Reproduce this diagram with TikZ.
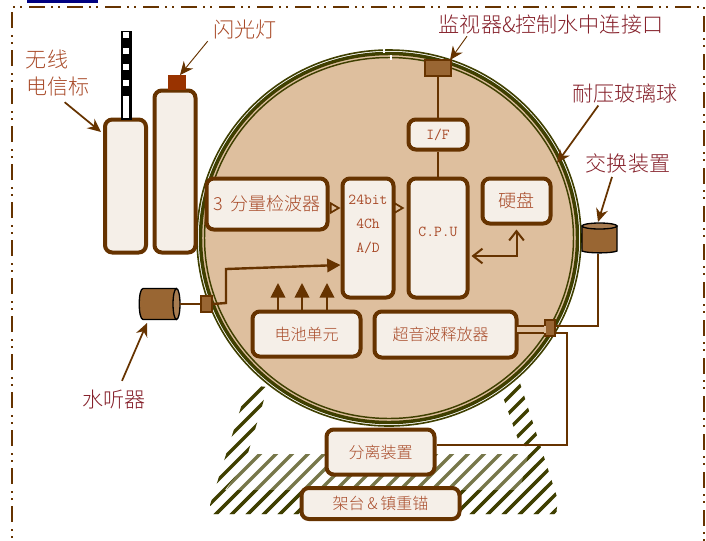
\documentclass[tikz,border=0pt]{standalone}
\usepackage{fontspec}
\setmainfont{Liberation Serif}
\newfontfamily\cjk{Noto Sans CJK SC Light}
\usetikzlibrary{arrows.meta,shapes.geometric}
\definecolor{brn}{HTML}{663300}
\definecolor{boxfill}{HTML}{F5EFE8}
\definecolor{tan1}{HTML}{DEBF9E}
\definecolor{ptc}{HTML}{996633}
\definecolor{capc}{HTML}{993300}
\definecolor{txto}{HTML}{A84A28}
\definecolor{txtr}{HTML}{85202A}
\definecolor{olive}{HTML}{3F3F00}
\definecolor{olivel}{HTML}{77774A}
\tikzset{
  bx/.style n args={2}{draw=brn,fill=boxfill,line width=3pt,rounded corners=5.5pt,inner sep=0pt,
    minimum width=#1*0.75pt,minimum height=#2*0.75pt,text=txto,font=\cjk\fontsize{12}{14}\selectfont,align=center},
  pt/.style n args={2}{draw=brn,fill=ptc,line width=0.9pt,inner sep=0pt,minimum width=#1*0.75pt,minimum height=#2*0.75pt},
  lbl/.style={inner sep=0pt,font=\cjk\fontsize{15.8}{17}\selectfont},
  ann/.style={draw=brn,line width=1.3pt,-{Stealth[length=10pt,width=9pt]}},
  wire/.style={draw=brn,line width=1.8pt},
  thin wire/.style={draw=brn,line width=1.3pt},
  filled up/.style={draw=brn,line width=1.3pt,-{Triangle[length=11pt,width=11pt]}},
  opentri/.style={draw=brn,line width=1.3pt,-{Triangle[open,length=8pt,width=9pt,fill=tan1]}},
  barb/.style={draw=brn,line width=1.5pt,{Straight Barb[length=7pt,width=11pt]}-{Straight Barb[length=7pt,width=11pt]}},
  hatch/.style={line width=2.5pt,line cap=butt},
  mono text/.style={font=\ttfamily\fontsize{11.4}{18}\selectfont},
  anchorbox/.style n args={2}{inner sep=0pt,minimum width=#1*0.75pt,minimum height=#2*0.75pt}
}
\begin{document}
\begin{tikzpicture}[x=0.75pt,y=-0.75pt]
\useasboundingbox (0,0) rectangle (706,540);
\clip (0,0) rectangle (706,540);
% frame
\draw[brn,line width=1.5pt,dash pattern=on 12pt off 4.5pt on 1.5pt off 4pt on 1.5pt off 5pt] (12,560)--(12,7)--(704,7)--(704,560);
\fill[blue!50!black] (27,0) rectangle (98,3);
% hatching
\begin{scope}
\clip (248,454) -- (530,454) -- (558,514) -- (212,514) -- cycle;
\foreach \c in {650,666,...,1100} \draw[hatch,olivel] (\c-370,370) -- (\c-530,530);
\end{scope}
\begin{scope}
\clip (248,385) -- (267,387) -- (263,403) -- (248,453) -- (240,470) -- (225,490) -- (520,490)
  -- (530,447) -- (520,445) -- (503,397) -- (520,383) -- (558,500) -- (556,514) -- (213,514) -- (210,505) -- cycle;
\foreach \c in {650,666,...,1100} \draw[hatch,olive] (\c-370,370) -- (\c-530,530);
\end{scope}
% sphere
\draw[olive,line width=1.2pt,fill=white] (389,238) ellipse [x radius=192,y radius=188];
\draw[olive,line width=2.6pt,fill=tan1] (389,238) ellipse [x radius=188.5,y radius=184.5];
\draw[olive,line width=1.1pt] (389,238) ellipse [x radius=184.5,y radius=180.5];
\draw[white,line width=1pt] (384,49) -- (384,53);
\draw[white,line width=1pt] (391,55) -- (391,60);
% floats
\node[bx={41}{133}] (radio) at (125.5,186) {};
\node[bx={41}{162}] (flash) at (175,171.5) {};
\node[draw=black,fill=black,line width=0pt,inner sep=0pt,minimum width=10*0.75pt,minimum height=88*0.75pt] (antenna) at (126,75) {};
\foreach \y/\h in {35/6,51/6,67/6,83/6,107/22}
  \fill[white] (122.7,\y-\h/2) rectangle (129.3,\y+\h/2);
\node[fill=capc,inner sep=0pt,minimum width=18*0.75pt,minimum height=15*0.75pt] (cap) at (177,82.5) {};
% boxes
\node[bx={121}{51}] (det) at (267,204) {\fontsize{13.5}{14}\selectfont\cjk 3\hspace{2.5pt} 分量检波器};
\node[bx={51}{119}, mono text] (ad) at (368,238) {24bit\\4Ch\\A/D\\[4pt]\mbox{}};
\node[bx={59}{119}, mono text] (cpu) at (438,238) {C.P.U\\[-9pt]\mbox{}};
\node[bx={59}{30}, mono text] (if) at (438,134.5) {I/F};
\node[bx={68}{45}] (hd) at (516.5,201) {\fontsize{13.5}{14}\selectfont\cjk 硬盘};
\node[bx={108}{45}] (bat) at (306.5,334) {电池单元};
\node[bx={142}{46}] (us) at (445.5,334.5) {超音波释放器\hspace{7.5pt}};
\node[bx={108}{45}] (sep) at (380.5,452) {分离装置};
\node[bx={158}{31}] (base) at (380.5,503.5) {架台\,\&\,镇重锚};
% ports
\node[pt={26}{16}] (top) at (438,68) {};
\node[pt={11}{16}] (hport) at (206.5,304) {};
\node[pt={10}{16}] (uport) at (550,328) {};
% cylinders
\node[anchorbox={41}{31}] (hyd) at (159.5,304) {};
\draw[black,line width=1pt,fill=ptc] (176.5,288.5) -- (143,288.5) .. controls (138,288.5) and (138,319.5) .. (143,319.5) -- (176.5,319.5);
\draw[black,line width=1pt,fill=ptc!85!white] (176.5,304) ellipse [x radius=3.5,y radius=15.5];
\node[anchorbox={36}{31}] (xch) at (599.5,238) {};
\draw[black,line width=1pt,fill=ptc] (582,226) -- (582,251) .. controls (588,253.5) and (611,253.5) .. (617,251) -- (617,226) -- cycle;
\draw[black,line width=1pt,fill=ptc!85!white] (599.5,226) ellipse [x radius=17.5,y radius=3];
% wires
\draw[wire] (top) -- (if);
\draw[wire] (if) -- (cpu);
\draw[opentri] ([yshift=-3pt]det.east) -- ([yshift=22.5pt]ad.west);
\draw[opentri,shorten >=1.5pt] ([yshift=22.5pt]ad.east) -- ([yshift=22.5pt]cpu.west);
\draw[barb] ([xshift=1.5pt,yshift=-13.5pt]cpu.east) -| ([yshift=-3pt]hd.south);
\draw[wire] (hyd.east) -- (hport.west);
\draw[wire,-{Triangle[length=10pt,width=10pt]}] (hport.east) -- (226,303) -- (226,269) -- ([yshift=-20.25pt]ad.west);
\draw[filled up] (bat.north -| 278,0) -- (278,283);
\draw[filled up] (bat.north -| 302,0) -- (302,283);
\draw[filled up] (bat.north -| 327,0) -- (327,283);
\fill[tan1] (517,326) rectangle (546,333);
\draw[thin wire] (517,326) -- (uport.west |- 0,326);
\draw[thin wire] (517,333) -- (uport.west |- 0,333);
\draw[thin wire] (uport.east |- 0,326) -- (598,326) -- (xch.south -| 598,0);
\draw[thin wire] (uport.east |- 0,333) -- (567,333) -- (567,445) -- (sep.east |- 0,445);
% labels
\node[lbl,text=txto] (l1) at (47,59) {无线};
\node[lbl,text=txto] (l2) at (58,87) {电信标};
\node[lbl,text=txto] (l3) at (245,30) {闪光灯};
\node[lbl,text=txtr] (l4) at (551,25) {监视器\&控制水中连接口};
\node[lbl,text=txtr] (l5) at (625,93) {耐压玻璃球};
\node[lbl,text=txtr] (l6) at (628,163) {交换装置};
\node[lbl,text=txtr] (l7) at (114,400) {水听器};
\coordinate (radiotip) at (101,132);
\coordinate (flashtip) at (180,75);
\coordinate (toptip) at (450,60);
\coordinate (spheretip) at (557,163);
\coordinate (xchtip) at (598,222);
\coordinate (hydtip) at (147,323);
\draw[ann] ([xshift=5pt,yshift=-4pt]l2.south) -- (radiotip);
\draw[ann,line width=0.7pt] ([xshift=-28pt,yshift=-1pt]l3.south) -- (flashtip);
\draw[ann,line width=0.7pt] ([xshift=-63pt,yshift=-1pt]l4.south) -- (toptip);
\draw[ann] ([xshift=-20pt,yshift=-2pt]l5.south) -- (spheretip);
\draw[ann] ([xshift=-12pt,yshift=-3pt]l6.south) -- (xchtip);
\draw[ann] ([xshift=6pt,yshift=7pt]l7.north) -- (hydtip);
\end{tikzpicture}
\end{document}
